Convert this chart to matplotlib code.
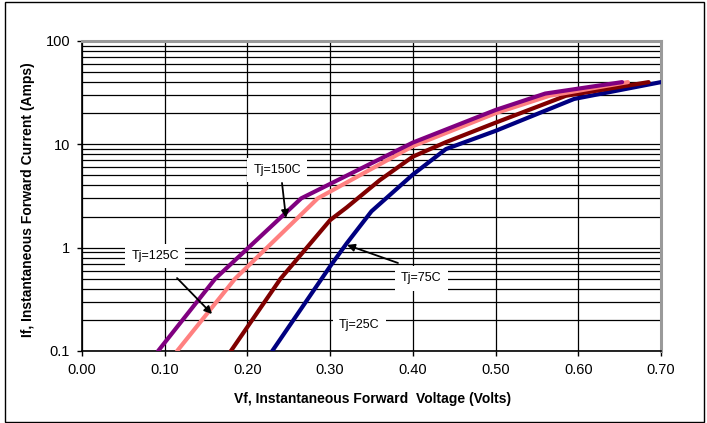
import matplotlib
matplotlib.use("Agg")
import matplotlib.pyplot as plt
from matplotlib.patches import Rectangle
from matplotlib.ticker import FixedLocator, FixedFormatter, LogLocator, NullFormatter

plt.rcParams['font.family'] = ['Liberation Sans', 'DejaVu Sans']

# Tj = 25C
v25 = [0.230, 0.300, 0.320, 0.350, 0.400, 0.440, 0.500, 0.595, 0.700]
i25 = [0.1, 0.66, 1.1, 2.25, 5.1, 9.0, 13.5, 27.5, 40]
# Tj = 75C
v75 = [0.180, 0.240, 0.300, 0.320, 0.360, 0.400, 0.440, 0.500, 0.585, 0.685]
i75 = [0.1, 0.5, 1.85, 2.45, 4.5, 7.6, 10.5, 16.2, 29.5, 40]
# Tj = 125C
v125 = [0.115, 0.185, 0.285, 0.400, 0.500, 0.565, 0.660]
i125 = [0.1, 0.5, 3.0, 9.6, 20.0, 29.5, 40]
# Tj = 150C
v150 = [0.092, 0.161, 0.265, 0.400, 0.500, 0.560, 0.653]
i150 = [0.1, 0.5, 3.0, 10.4, 21.5, 31.0, 40]

xticks = [0.0, 0.1, 0.2, 0.3, 0.4, 0.5, 0.6, 0.7]
xticklabels = ["0.00", "0.10", "0.20", "0.30", "0.40", "0.50", "0.60", "0.70"]
yticks = [0.1, 1, 10, 100]
yticklabels = ["0.1", "1", "10", "100"]

W, H = 707, 423
fig = plt.figure(figsize=(W / 100, H / 100), dpi=100)
ax = fig.add_axes([82 / W, 1 - 351 / H, (661 - 82) / W, (351 - 41) / H])

ax.set_yscale('log')
ax.set_xlim(0, 0.7)
ax.set_ylim(0.1, 100)

ax.xaxis.set_major_locator(FixedLocator(xticks))
ax.xaxis.set_major_formatter(FixedFormatter(xticklabels))
ax.yaxis.set_major_locator(FixedLocator(yticks))
ax.yaxis.set_major_formatter(FixedFormatter(yticklabels))
ax.yaxis.set_minor_locator(LogLocator(base=10, subs=range(2, 10)))
ax.yaxis.set_minor_formatter(NullFormatter())

ax.set_axisbelow(True)
ax.grid(True, which='major', axis='x', color='black', lw=0.9)
ax.grid(True, which='both', axis='y', color='black', lw=0.9)
ax.tick_params(axis='both', which='major', direction='out', length=3.5, width=1,
               labelsize=10.5, colors='black', pad=5)
ax.tick_params(axis='y', which='minor', length=0)

for s in ['left', 'bottom']:
    ax.spines[s].set_color('black')
    ax.spines[s].set_linewidth(1.2)
for s in ['top', 'right']:
    ax.spines[s].set_color('#9a9a9a')
    ax.spines[s].set_linewidth(2.2)

kw = dict(lw=3.0, solid_capstyle='round', solid_joinstyle='round', zorder=5)
ax.plot(v25, i25, color='#000080', **kw)
ax.plot(v75, i75, color='#800000', **kw)
ax.plot(v125, i125, color='#FF8080', **kw)
ax.plot(v150, i150, color='#800080', **kw)

box = dict(boxstyle='square,pad=0.5', fc='white', ec='none')
tkw = dict(fontsize=9, ha='center', va='center', bbox=box, zorder=3)
ax.text(0.2358, 5.65, "Tj=150C", **tkw)
ax.text(0.0883, 0.83, "Tj=125C", **tkw)
ax.text(0.410, 0.505, "Tj=75C", **tkw)
ax.text(0.335, 0.179, "Tj=25C", **tkw)

akw = dict(arrowstyle='-|>', color='black', lw=1.3, mutation_scale=11,
           shrinkA=0, shrinkB=0)
ax.annotate('', xy=(0.2466, 1.94), xytext=(0.2418, 4.23), arrowprops=akw, zorder=6)
ax.annotate('', xy=(0.1572, 0.228), xytext=(0.1149, 0.508), arrowprops=akw, zorder=6)
ax.annotate('', xy=(0.3204, 1.062), xytext=(0.382, 0.711), arrowprops=akw, zorder=6)

fig.text(28 / W, 1 - 200 / H, "If, Instantaneous Forward Current (Amps)",
         rotation=90, ha='center', va='center', fontsize=10, fontweight='bold')
fig.text(372.5 / W, 1 - 398.5 / H, "Vf, Instantaneous Forward  Voltage (Volts)",
         ha='center', va='center', fontsize=10, fontweight='bold')

fig.patches.append(Rectangle((4.5 / W, 1.5 / H), 699 / W, 419.5 / H,
                             transform=fig.transFigure, fill=False,
                             ec='black', lw=1.0))

fig.savefig('out.png', dpi=100)
